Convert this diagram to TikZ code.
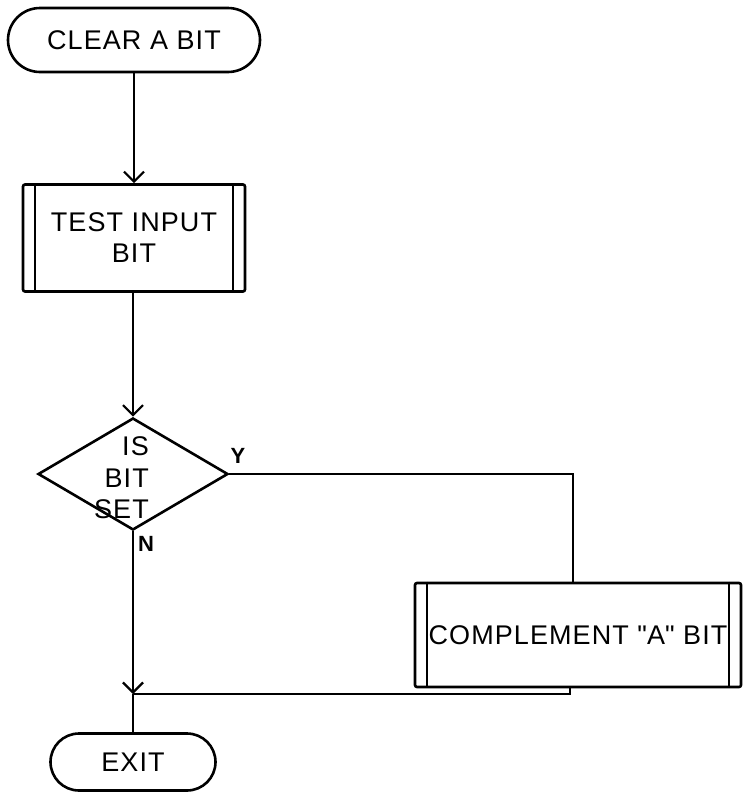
\documentclass[tikz,border=0pt]{standalone}
\usepackage{fontspec}
\setmainfont{Liberation Sans}[LetterSpace=4.0]
\usetikzlibrary{shapes.misc,shapes.geometric,arrows.meta}
\tikzset{
  terminal/.style = {draw, rounded rectangle, line width=2.6pt, inner sep=0pt,
    font=\fontsize{27}{31}\selectfont},
  subproc/.style = {draw, rectangle, rounded corners=2pt, line width=2.6pt,
    inner sep=0pt, align=center, font=\fontsize{27}{31}\selectfont},
  decision/.style = {draw, diamond, line width=2.6pt, inner sep=0pt},
  flow/.style = {line width=2.2pt},
  flowarrow/.style = {flow, -{Straight Barb[length=10pt,width=20pt,line width=2.2pt]}},
  yn/.style = {font=\fontsize{22}{22}\selectfont\bfseries}
}

\begin{document}
\begin{tikzpicture}[x=1pt,y=-1pt]
  \useasboundingbox (0,0) rectangle (744,793);
  % boxes
  \node[terminal, minimum width=252pt, minimum height=64pt] (clear) at (134,40) {CLEAR A BIT};
  \node[subproc, minimum width=222pt, minimum height=107pt] (test) at (134,238) {TEST INPUT\\BIT};
  \node[decision, minimum width=190pt, minimum height=112pt] (dec) at (133,474) {};
  \node[align=right, anchor=east, inner sep=0pt, font=\fontsize{27}{31.5}\selectfont] (dectext) at (149,478) {IS\\BIT\\SET};
  \node[subproc, minimum width=326pt, minimum height=104pt] (comp) at (578,635) {COMPLEMENT \textquotedbl A\textquotedbl{} BIT};
  \node[terminal, minimum width=165pt, minimum height=57pt] (exit) at (133,762) {EXIT};
  % side bars
  \foreach \b in {test,comp} {%
    \draw[line width=2pt] ([xshift=13pt]\b.north west) -- ([xshift=13pt]\b.south west);
    \draw[line width=2pt] ([xshift=-13pt]\b.north east) -- ([xshift=-13pt]\b.south east);
  }
  % labels
  \node[yn] (ylab) at (238,456) {Y};
  \node[yn] (nlab) at (146,544) {N};
  % connectors
  \coordinate (join) at (133,694);
  \draw[flowarrow] (clear.south -| test.north) -- (test.north);
  \draw[flowarrow] (test.south -| dec.north) -- (dec.north);
  \draw[flow] (dec.east) -| ([xshift=-5pt]comp.north);
  \draw[flowarrow] (dec.south) -- (join);
  \draw[flow] (join) -- (exit.north);
  \draw[flow] ([xshift=-8pt]comp.south) |- (join);
\end{tikzpicture}
\end{document}
